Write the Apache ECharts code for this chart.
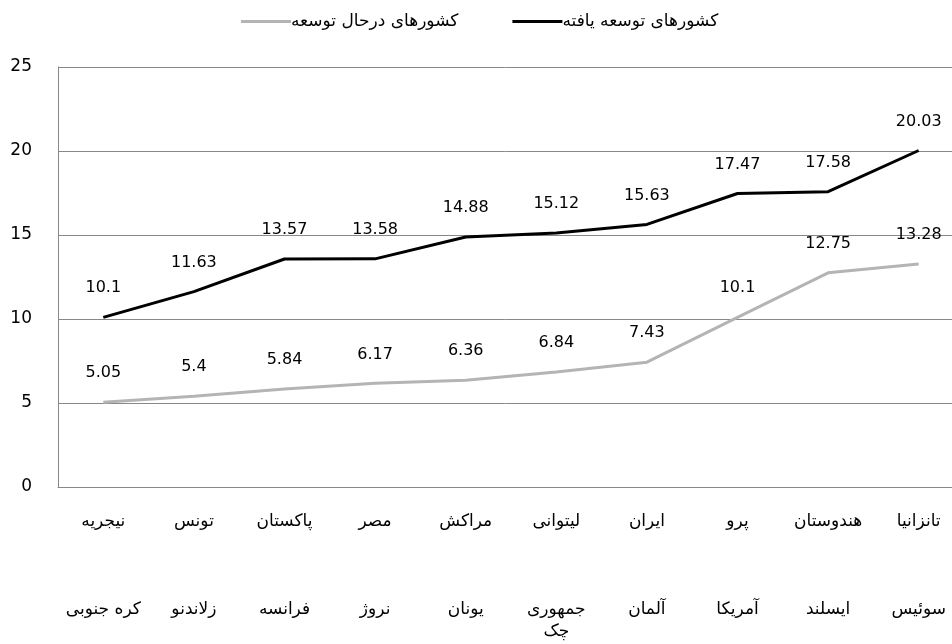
<!DOCTYPE html>
<html lang="fa">
<head>
	<meta charset="utf-8">
	<title>chart</title>
	<script src="https://cdn.jsdelivr.net/npm/echarts@6/dist/echarts.min.js"></script>
</head>
<style>
	html,body{width: 100%; height: 100%; padding: 0; margin: 0; overflow: hidden; background: #fff;}
	#main{width: 952px; height: 644px;}
</style>
<body>
	<div id="main"></div>
</body>
<script type="text/javascript">
	// کشورها - ردیف بالا: درحال توسعه، ردیف پایین: توسعه یافته
	var developingNames = ['نیجریه', 'تونس', 'پاکستان', 'مصر', 'مراکش', 'لیتوانی', 'ایران', 'پرو', 'هندوستان', 'تانزانیا'];
	var developedNames = ['کره جنوبی', 'زلاندنو', 'فرانسه', 'نروژ', 'یونان', 'جمهوری\nچک', 'آلمان', 'آمریکا', 'ایسلند', 'سوئیس'];
	var developedValues = [10.1, 11.63, 13.57, 13.58, 14.88, 15.12, 15.63, 17.47, 17.58, 20.03];
	var developingValues = [5.05, 5.4, 5.84, 6.17, 6.36, 6.84, 7.43, 10.1, 12.75, 13.28];
	var yTicks = [0, 5, 10, 15, 20, 25];

	var seriesNames = ['کشورهای درحال توسعه', 'کشورهای توسعه یافته'];

	var categories = [];
	for (var i = 0; i < developingNames.length; i++) {
		categories.push(developingNames[i] + '\n\n\n\n' + developedNames[i]);
	}

	var font = 'DejaVu Sans';
	var myChart = echarts.init(document.getElementById('main'));
	var option = {
		animation: false,
		textStyle: {fontFamily: font},
		legend: {
			top: 8,
			left: 236,
			itemWidth: 50,
			itemHeight: 3,
			itemGap: 54,
			itemStyle: {borderWidth: 0},
			icon: 'rect',
			textStyle: {fontFamily: font, fontSize: 17, color: '#000', padding: [0, 0, 0, -5]},
			data: seriesNames
		},
		// plot area runs a little past the right edge, as in the picture
		grid: {left: 58, width: 906, top: 67, bottom: 157, outerBoundsMode: 'none', containLabel: false},
		xAxis: {
			type: 'category',
			data: categories,
			boundaryGap: true,
			axisLine: {lineStyle: {color: '#888', width: 1}},
			axisTick: {show: false},
			axisLabel: {
				interval: 0,
				margin: 24,
				fontFamily: font,
				fontSize: 17,
				lineHeight: 22,
				color: '#000',
				hideOverlap: false
			}
		},
		yAxis: {
			type: 'value',
			min: yTicks[0],
			max: yTicks[yTicks.length - 1],
			interval: 5,
			axisLine: {show: true, lineStyle: {color: '#888', width: 1}},
			axisTick: {show: false},
			splitLine: {lineStyle: {color: '#888', width: 1}},
			axisLabel: {margin: 26, fontFamily: font, fontSize: 17, color: '#000'}
		},
		series: [{
			name: seriesNames[0],
			type: 'line',
			data: developingValues,
			symbol: 'circle',
			symbolSize: 0,
			showSymbol: true,
			itemStyle: {color: '#b4b4b4'},
			lineStyle: {color: '#b4b4b4', width: 3},
			label: {show: true, position: 'top', distance: 21, fontFamily: font, fontSize: 16, color: '#000'},
			z: 3
		}, {
			name: seriesNames[1],
			type: 'line',
			data: developedValues,
			symbol: 'circle',
			symbolSize: 0,
			showSymbol: true,
			itemStyle: {color: '#000'},
			lineStyle: {color: '#000', width: 3},
			label: {show: true, position: 'top', distance: 21, fontFamily: font, fontSize: 16, color: '#000'},
			z: 4
		}]
	};
	myChart.setOption(option);
</script>
</html>
